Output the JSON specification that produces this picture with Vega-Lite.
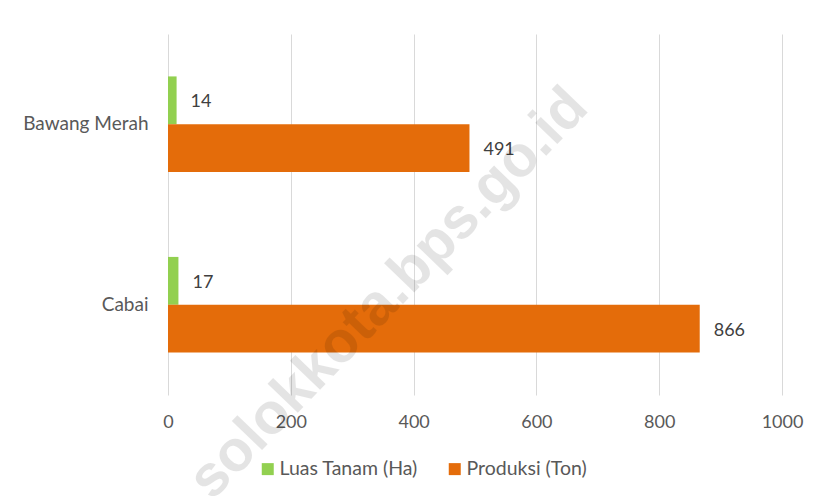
{
  "$schema": "https://vega.github.io/schema/vega-lite/v6.json",
  "width": 614,
  "height": 361,
  "autosize": {"type": "none"},
  "padding": {"left": 168, "top": 34, "right": 39, "bottom": 101},
  "background": "white",
  "config": {"view": {"stroke": null}, "font": "Lato"},
  "datasets": {
    "crops": [
      {"Komoditas": "Bawang Merah", "Seri": "Luas Tanam (Ha)", "Nilai": 14},
      {"Komoditas": "Bawang Merah", "Seri": "Produksi (Ton)", "Nilai": 491},
      {"Komoditas": "Cabai", "Seri": "Luas Tanam (Ha)", "Nilai": 17},
      {"Komoditas": "Cabai", "Seri": "Produksi (Ton)", "Nilai": 866}
    ],
    "mark": [
      {"teks": "solokkota.bps.go.id", "px": 360, "py": 0.28}
    ]
  },
  "layer": [
    {
      "data": {"name": "crops"},
      "encoding": {
        "y": {
          "field": "Komoditas", "type": "nominal",
          "sort": ["Bawang Merah", "Cabai"],
          "scale": {"paddingInner": 0.47, "paddingOuter": 0.235},
          "axis": {"title": null, "domain": false, "ticks": false, "labelPadding": 20, "labelFontSize": 19, "labelColor": "#595959", "grid": false}
        },
        "yOffset": {"field": "Seri", "type": "nominal", "sort": ["Luas Tanam (Ha)", "Produksi (Ton)"]},
        "x": {
          "field": "Nilai", "type": "quantitative",
          "scale": {"domain": [0, 1000], "nice": false},
          "axis": {"title": null, "values": [0, 200, 400, 600, 800, 1000], "format": "d", "grid": true, "gridColor": "#d9d9d9", "gridWidth": 1, "domain": false, "ticks": false, "labelFlush": false, "labelOverlap": false, "labelPadding": 18, "labelFontSize": 18, "labelColor": "#595959"}
        }
      },
      "layer": [
        {
          "mark": {"type": "bar"},
          "encoding": {
            "color": {
              "field": "Seri", "type": "nominal",
              "scale": {"domain": ["Luas Tanam (Ha)", "Produksi (Ton)"], "range": ["#92D050", "#E46C0A"]},
              "legend": {"title": null, "orient": "none", "legendX": 90, "legendY": 425, "direction": "horizontal", "symbolType": "square", "symbolSize": 144, "symbolStrokeWidth": 0, "labelFontSize": 19.5, "labelColor": "#595959", "labelOffset": 2, "columnPadding": 27, "padding": 0}
            }
          }
        },
        {
          "mark": {"type": "text", "align": "left", "baseline": "middle", "dx": 14, "dy": 2, "fontSize": 18, "color": "#404040"},
          "encoding": {
            "text": {"field": "Nilai", "type": "quantitative"}
          }
        }
      ]
    },
    {
      "data": {"name": "mark"},
      "mark": {"type": "text", "align": "center", "baseline": "middle", "angle": -46, "fontSize": 58, "fontWeight": "bold", "font": "Liberation Sans", "color": "#000000", "opacity": 0.1},
      "encoding": {
        "x": {"field": "px", "type": "quantitative"},
        "y": {"field": "py", "type": "quantitative", "scale": {"domain": [0, 1]}, "axis": null},
        "text": {"field": "teks", "type": "nominal"}
      }
    }
  ],
  "resolve": {"scale": {"y": "independent"}, "axis": {"y": "independent"}}
}
